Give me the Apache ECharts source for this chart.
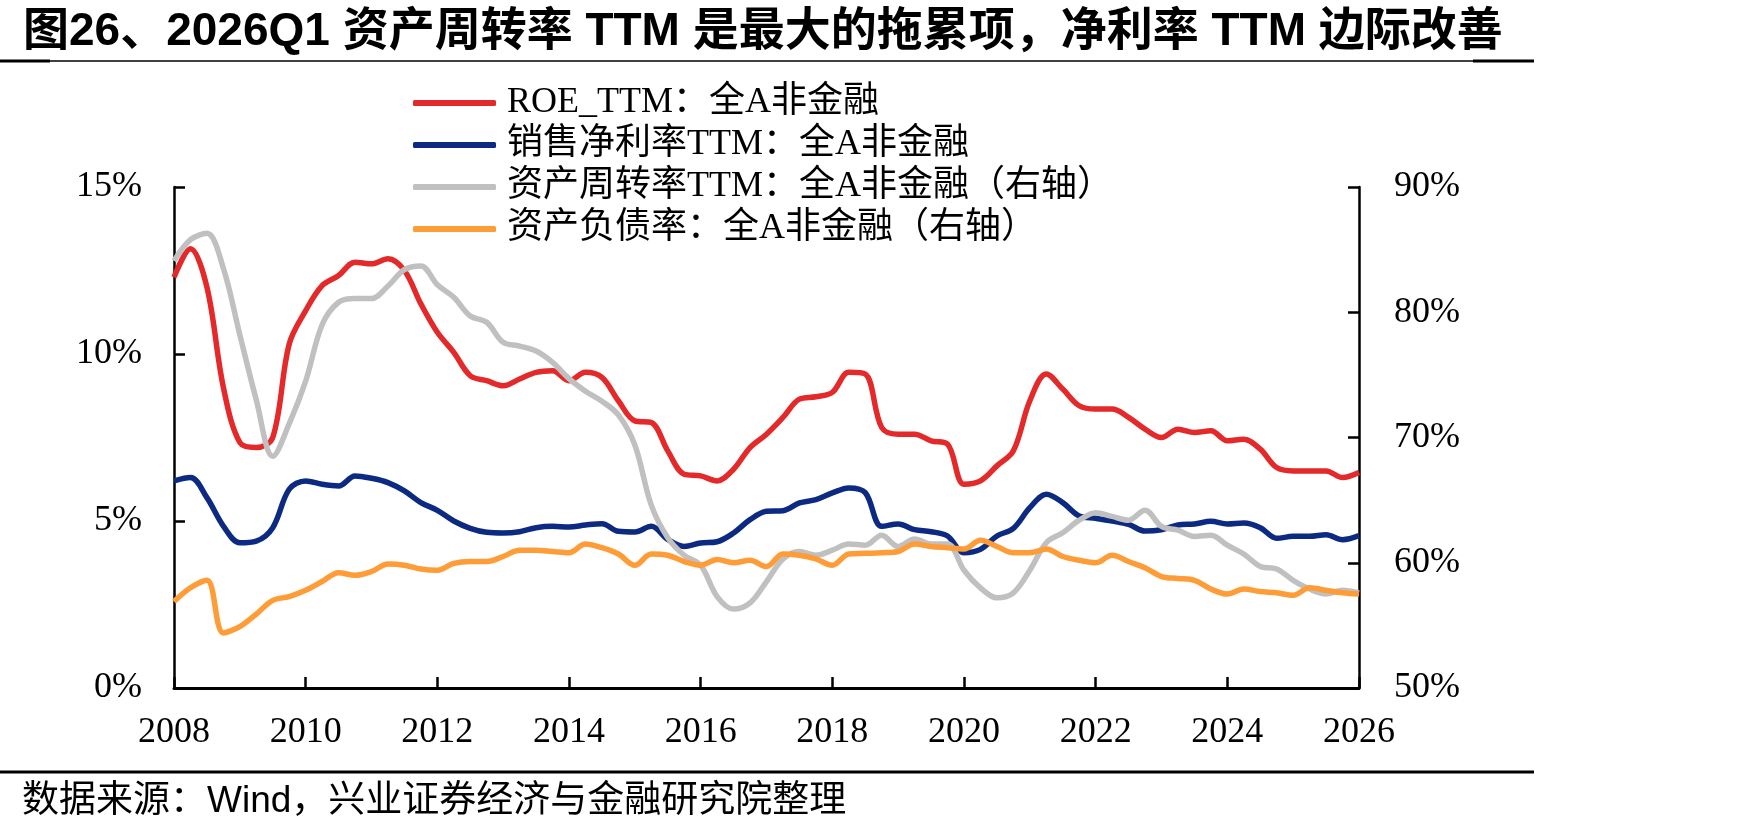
<!DOCTYPE html>
<html>
<head>
<meta charset="utf-8">
<title>ROE拆解</title>
<script src="https://cdn.jsdelivr.net/npm/echarts@6/dist/echarts.min.js"></script>
<style>
	html, body { margin: 0; padding: 0; background: #fff; }
	#chart { width: 1749px; height: 835px; }
</style>
</head>
<body>
<div id="chart"></div>
<script>
// 季度：2008Q1 ~ 2026Q1
var quarters = [];
for (var y = 2008; y <= 2026; y++) {
	for (var q = 1; q <= 4; q++) {
		if (y === 2026 && q > 1) break;
		quarters.push(y + 'Q' + q);
	}
}

var leftTicks = ['0%', '5%', '10%', '15%'];
var rightTicks = ['50%', '60%', '70%', '80%', '90%'];

// ROE_TTM（左轴，%）
var roeTTM = [
	12.3, 13.15, 12.0, 9.0,
	7.35, 7.2, 7.5, 10.3,
	11.3, 12.05, 12.35, 12.75,
	12.7, 12.85, 12.5, 11.5,
	10.65, 10.05, 9.35, 9.2,
	9.05, 9.25, 9.45, 9.5,
	9.2, 9.45, 9.3, 8.6,
	8.0, 7.95, 7.1, 6.4,
	6.35, 6.2, 6.55, 7.2,
	7.6, 8.1, 8.65, 8.72,
	8.85, 9.45, 9.4, 7.8,
	7.6, 7.6, 7.4, 7.3,
	6.1, 6.2, 6.65, 7.1,
	8.6, 9.4, 8.95, 8.45,
	8.35, 8.35, 8.1, 7.75,
	7.5, 7.75, 7.65, 7.7,
	7.4, 7.45, 7.15, 6.6,
	6.5, 6.5, 6.5, 6.3,
	6.45
];

// 销售净利率TTM（左轴，%）
var netMargin = [
	6.2, 6.3, 5.7, 4.85,
	4.35, 4.4, 4.8, 5.95,
	6.2, 6.1, 6.05, 6.35,
	6.28, 6.15, 5.9, 5.55,
	5.32, 5.0, 4.78, 4.66,
	4.64, 4.68, 4.8, 4.84,
	4.82, 4.88, 4.92, 4.69,
	4.67, 4.84, 4.45, 4.24,
	4.34, 4.38, 4.64, 5.04,
	5.29, 5.31, 5.54, 5.64,
	5.84, 5.99, 5.85, 4.84,
	4.91, 4.74, 4.68, 4.55,
	4.05, 4.15, 4.55, 4.78,
	5.4, 5.8, 5.55, 5.15,
	5.08, 5.0, 4.9, 4.7,
	4.74, 4.88, 4.91, 4.99,
	4.91, 4.94, 4.8, 4.48,
	4.54, 4.54, 4.59, 4.44,
	4.56
];

// 资产周转率TTM（右轴，%）
var assetTurnover = [
	84.1, 85.8, 86.3, 83.5,
	78.2, 73.0, 68.5, 71.1,
	74.5, 79.0, 80.8, 81.1,
	81.1, 82.1, 83.4, 83.7,
	82.2, 81.2, 79.7, 79.2,
	77.6, 77.3, 76.9, 76.0,
	74.7, 73.7, 72.9, 71.8,
	69.4, 64.6, 62.0, 60.6,
	59.8, 57.3, 56.3, 56.8,
	58.5, 60.3, 60.9, 60.6,
	61.0, 61.5, 61.4, 62.2,
	61.3, 61.9, 61.5, 61.5,
	59.4, 58.0, 57.2, 57.6,
	59.4, 61.6, 62.4, 63.4,
	64.0, 63.7, 63.4, 64.2,
	62.9, 62.6, 62.1, 62.2,
	61.4, 60.7, 59.7, 59.5,
	58.6, 57.9, 57.5, 57.8,
	57.6
];

// 资产负债率（右轴，%）
var debtRatio = [
	56.9, 58.0, 58.6, 54.4,
	54.9, 55.9, 57.0, 57.3,
	57.8, 58.5, 59.2, 59.0,
	59.3, 59.9, 59.8, 59.5,
	59.4, 59.95, 60.1, 60.1,
	60.5, 61.0, 61.0, 60.9,
	60.8, 61.5, 61.2, 60.7,
	59.8, 60.7, 60.6, 60.1,
	59.8, 60.25, 60.0, 60.2,
	59.7, 60.7, 60.6, 60.3,
	59.8, 60.7, 60.75, 60.8,
	60.9, 61.5, 61.3, 61.2,
	61.1, 61.8, 61.3, 60.8,
	60.8, 61.1, 60.5, 60.2,
	60.0, 60.6, 60.1, 59.6,
	58.9, 58.75, 58.6, 57.9,
	57.5, 57.9, 57.7, 57.6,
	57.4, 58.0, 57.8, 57.6,
	57.5
];

var seriesNames = [
	'ROE_TTM：全A非金融',
	'销售净利率TTM：全A非金融',
	'资产周转率TTM：全A非金融（右轴）',
	'资产负债率：全A非金融（右轴）'
];
var colors = ['#e3292a', '#0c2a82', '#c0c0c0', '#fe9d38'];

var serif = "'Liberation Serif', 'Noto Sans CJK SC', serif";
var sans = "'Liberation Sans', 'Noto Sans CJK SC', sans-serif";

var chart = echarts.init(document.getElementById('chart'), null, { renderer: 'canvas' });

function lineSeries (name, data, yIndex) {
	return {
		name: name,
		type: 'line',
		yAxisIndex: yIndex,
		data: data,
		smooth: 0.35,
		symbol: 'none',
		lineStyle: { width: 5.5 }
	};
}

var option = {
	animation: false,
	color: colors,
	title: {
		text: '图26、2026Q1 资产周转率 TTM 是最大的拖累项，净利率 TTM 边际改善',
		left: 18,
		top: 2,
		textStyle: {
			fontFamily: sans,
			fontWeight: 'bold',
			fontSize: 46,
			lineHeight: 50,
			color: '#000'
		}
	},
	legend: {
		orient: 'vertical',
		left: 408,
		top: 80,
		itemWidth: 83,
		itemHeight: 6,
		itemGap: 6,
		icon: 'roundRect',
		data: seriesNames,
		textStyle: {
			fontFamily: serif,
			fontSize: 36,
			lineHeight: 36,
			color: '#000',
			padding: [0, 0, 0, 6]
		}
	},
	grid: {
		left: 174,
		right: 390,
		top: 187,
		bottom: 147
	},
	xAxis: {
		type: 'category',
		data: quarters,
		boundaryGap: false,
		axisLine: { lineStyle: { color: '#000', width: 3 } },
		axisTick: { inside: true, length: 11, interval: 7, lineStyle: { color: '#000', width: 2.5 } },
		axisLabel: {
			interval: 7,
			margin: 27,
			fontFamily: serif,
			fontSize: 36,
			color: '#000',
			formatter: function (v) { return v.slice(0, 4); }
		},
		splitLine: { show: false }
	},
	yAxis: [
		{
			type: 'value',
			min: 0,
			max: 15,
			interval: 5,
			axisLine: { show: true, lineStyle: { color: '#000', width: 2.5 } },
			axisTick: { show: true, inside: true, length: 11, lineStyle: { color: '#000', width: 2.5 } },
			axisLabel: {
				margin: 32,
				fontFamily: serif,
				fontSize: 36,
				color: '#000',
				formatter: function (v) { return leftTicks[v / 5]; }
			},
			splitLine: { show: false }
		},
		{
			type: 'value',
			min: 50,
			max: 90,
			interval: 10,
			position: 'right',
			axisLine: { show: true, lineStyle: { color: '#000', width: 2.5 } },
			axisTick: { show: true, inside: true, length: 11, lineStyle: { color: '#000', width: 2.5 } },
			axisLabel: {
				margin: 35,
				fontFamily: serif,
				fontSize: 36,
				color: '#000',
				formatter: function (v) { return rightTicks[(v - 50) / 10]; }
			},
			splitLine: { show: false }
		}
	],
	series: [
		lineSeries(seriesNames[0], roeTTM, 0),
		lineSeries(seriesNames[1], netMargin, 0),
		lineSeries(seriesNames[2], assetTurnover, 1),
		lineSeries(seriesNames[3], debtRatio, 1)
	],
	graphic: [
		// 标题下横线
		{ type: 'line', shape: { x1: 0, y1: 61, x2: 1534, y2: 61 }, style: { stroke: '#000', lineWidth: 1.5 } },
		{ type: 'line', shape: { x1: 0, y1: 61, x2: 50, y2: 61 }, style: { stroke: '#000', lineWidth: 3 } },
		{ type: 'line', shape: { x1: 1473, y1: 61, x2: 1534, y2: 61 }, style: { stroke: '#000', lineWidth: 3 } },
		// 底部横线
		{ type: 'line', shape: { x1: 0, y1: 772, x2: 1534, y2: 772 }, style: { stroke: '#000', lineWidth: 3 } },
		{
			type: 'text',
			left: 22,
			top: 783,
			style: {
				text: '数据来源：Wind，兴业证券经济与金融研究院整理',
				font: '37px ' + sans,
				fill: '#000'
			}
		}
	]
};

chart.setOption(option);
</script>
</body>
</html>
